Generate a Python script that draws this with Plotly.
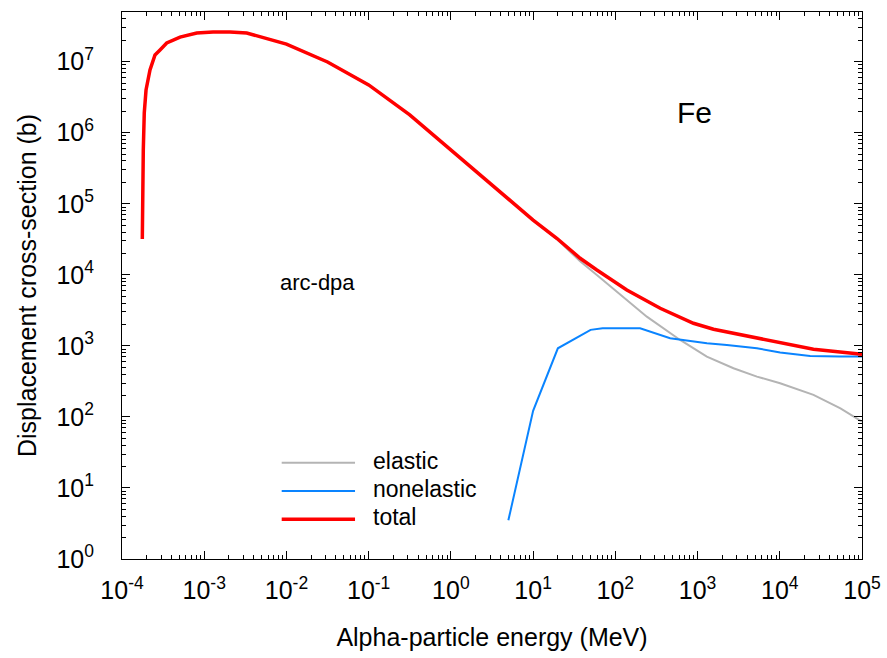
import plotly.graph_objects as go

# ---- data (energy in MeV, cross-section in barns) ----
total_E = [1.766e-4, 1.77e-4, 1.815e-4, 1.866e-4, 1.96e-4, 2.19e-4, 2.52e-4, 2.90e-4,
           3.50e-4, 5.08e-4, 8.11e-4, 1.28e-3, 2.06e-3, 3.29e-3, 1e-2, 3.16e-2, 0.1,
           0.316, 1.0, 3.16, 10.0, 19.4, 37.3, 59.6, 138.0, 351.0, 891.0, 1563.0,
           3981.0, 1.01e4, 2.57e4, 1e5]
total_S = [3.2e4, 8.7e4, 5.71e5, 1.90e6, 3.99e6, 7.64e6, 1.24e7, 1.46e7,
           1.83e7, 2.22e7, 2.53e7, 2.62e7, 2.62e7, 2.53e7, 1.77e7, 9.9e6, 4.7e6,
           1.78e6, 5.71e5, 1.84e5, 5.9e4, 3.27e4, 1.71e4, 1.17e4, 6120, 3380, 2080, 1710,
           1377, 1089, 895, 762]

elastic_E = [1.766e-4, 1.77e-4, 1.815e-4, 1.866e-4, 1.96e-4, 2.19e-4, 2.52e-4, 2.90e-4,
             3.50e-4, 5.08e-4, 8.11e-4, 1.28e-3, 2.06e-3, 3.29e-3, 1e-2, 3.16e-2, 0.1,
             0.316, 1.0, 3.16, 10.0, 19.4, 37.3, 59.6, 125.6, 241.5, 614.0, 1297.0,
             2735.0, 5272.0, 1.01e4, 2.57e4, 5.47e4, 1e5]
elastic_S = [3.2e4, 8.7e4, 5.71e5, 1.90e6, 3.99e6, 7.64e6, 1.24e7, 1.46e7,
             1.83e7, 2.22e7, 2.53e7, 2.62e7, 2.62e7, 2.53e7, 1.77e7, 9.9e6, 4.7e6,
             1.78e6, 5.71e5, 1.84e5, 5.88e4, 3.18e4, 1.55e4, 9950, 4920, 2576, 1211, 705,
             484, 369, 298, 204, 132, 86]

nonel_E = [5.0, 10.0, 20.0, 50.0, 70.0, 200.0, 464.0, 1300.0, 2270.0, 5270.0,
           1.01e4, 2.34e4, 5.4e4, 1e5]
nonel_S = [3.5, 122, 925, 1680, 1770, 1770, 1280, 1090, 1030, 925,
           804, 721, 706, 706]

x_tickvals = [1e-4, 1e-3, 1e-2, 1e-1, 1e0, 1e1, 1e2, 1e3, 1e4, 1e5]
x_ticktext = ["10<sup>-4</sup>", "10<sup>-3</sup>", "10<sup>-2</sup>", "10<sup>-1</sup>",
              "10<sup>0</sup>", "10<sup>1</sup>", "10<sup>2</sup>", "10<sup>3</sup>",
              "10<sup>4</sup>", "10<sup>5</sup>"]
y_tickvals = [1e0, 1e1, 1e2, 1e3, 1e4, 1e5, 1e6, 1e7]
y_ticktext = ["10<sup>0</sup>", "10<sup>1</sup>", "10<sup>2</sup>", "10<sup>3</sup>",
              "10<sup>4</sup>", "10<sup>5</sup>", "10<sup>6</sup>", "10<sup>7</sup>"]

legend_names = ["elastic", "nonelastic", "total"]
colors = {"elastic": "#b4b4b4", "nonelastic": "#0a84ff", "total": "#ff0000"}
widths = {"elastic": 2, "nonelastic": 2, "total": 3.5}

FONT = "Liberation Sans, Arial, sans-serif"

fig = go.Figure()
fig.add_trace(go.Scatter(x=elastic_E, y=elastic_S, mode="lines", name="elastic",
                         line=dict(color=colors["elastic"], width=widths["elastic"])))
fig.add_trace(go.Scatter(x=nonel_E, y=nonel_S, mode="lines", name="nonelastic",
                         line=dict(color=colors["nonelastic"], width=widths["nonelastic"])))
fig.add_trace(go.Scatter(x=total_E, y=total_S, mode="lines", name="total",
                         line=dict(color=colors["total"], width=widths["total"])))

axis_common = dict(
    showline=True, linecolor="black", linewidth=1, mirror="allticks",
    ticks="inside", ticklen=8, tickwidth=1, tickcolor="black",
    showgrid=False, zeroline=False, automargin=False,
    tickfont=dict(family=FONT, size=25, color="black"),
    minor=dict(ticks="inside", ticklen=4, tickwidth=1, tickcolor="black",
               dtick="D1", showgrid=False),
)

fig.update_xaxes(type="log", range=[-4, 5], tickmode="array",
                 tickvals=x_tickvals, ticktext=x_ticktext, ticklabelstandoff=9,
                 title=dict(text="Alpha-particle energy (MeV)",
                            font=dict(family=FONT, size=25, color="black"), standoff=25),
                 **axis_common)
fig.update_yaxes(type="log", range=[0, 7.699], tickmode="array",
                 tickvals=y_tickvals, ticktext=y_ticktext, ticklabelstandoff=22,
                 title=dict(text="Displacement cross-section (b)",
                            font=dict(family=FONT, size=25, color="black"), standoff=12),
                 **axis_common)

# manual legend (line samples + labels) in paper coordinates
leg_y = [0.176, 0.1243, 0.0726]
shapes = []
annotations = []
for name, yy in zip(legend_names, leg_y):
    shapes.append(dict(type="line", xref="paper", yref="paper",
                       x0=0.2158, x1=0.3149, y0=yy, y1=yy,
                       line=dict(color=colors[name], width=widths[name])))
    annotations.append(dict(text=name, xref="paper", yref="paper", x=0.3365, y=yy + 0.004,
                            xanchor="left", yanchor="middle", showarrow=False,
                            font=dict(family=FONT, size=23, color="black")))

annotations.append(dict(text="Fe", xref="paper", yref="paper", x=0.774, y=0.8154,
                        xanchor="center", yanchor="middle", showarrow=False,
                        font=dict(family=FONT, size=30, color="black")))
annotations.append(dict(text="arc-dpa", xref="paper", yref="paper", x=0.264, y=0.5046,
                        xanchor="center", yanchor="middle", showarrow=False,
                        font=dict(family=FONT, size=22, color="black")))

fig.update_layout(
    width=887, height=658,
    margin=dict(l=122, r=25, t=12, b=99),
    paper_bgcolor="white", plot_bgcolor="white",
    showlegend=False,
    shapes=shapes, annotations=annotations,
    font=dict(family=FONT, color="black"),
)

fig.write_html("out.html",
               config={"displayModeBar": False},
               post_script="document.body.style.margin='0';document.body.style.overflow='hidden';")
